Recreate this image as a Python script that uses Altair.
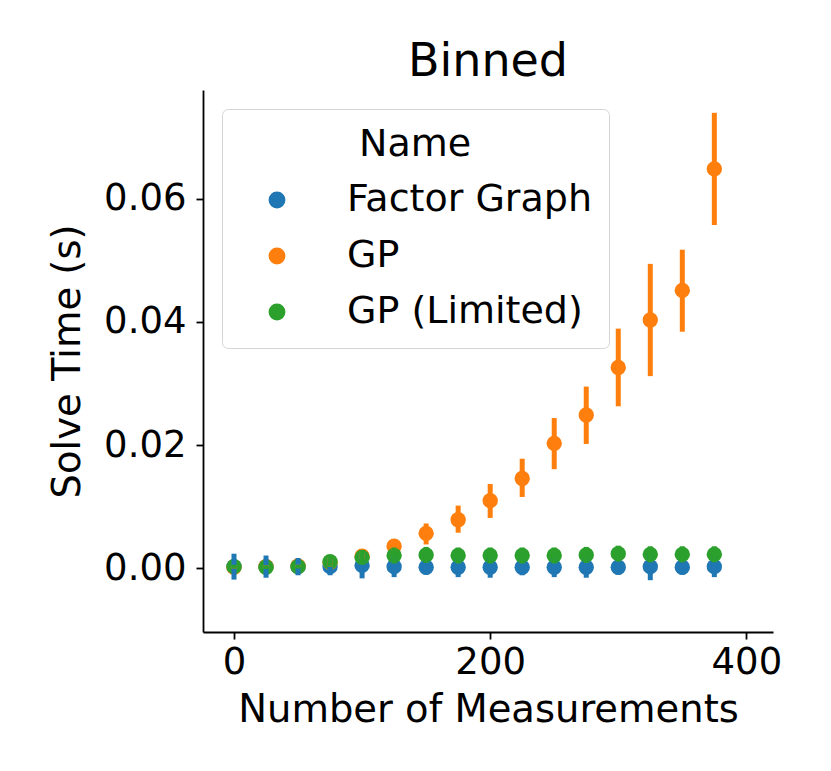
import altair as alt
import pandas as pd

# Data
measurements = [0, 25, 50, 75, 100, 125, 150, 175, 200, 225, 250, 275, 300, 325, 350, 375]
names = ["Factor Graph", "GP", "GP (Limited)"]
colors = ["#1f77b4", "#ff7f0e", "#2ca02c"]

fg_mean = [0.0003, 0.0003, 0.0003, 0.0003, 0.0005, 0.0003, 0.0002, 0.0002, 0.0002, 0.0002, 0.0002, 0.0002, 0.0002, 0.0003, 0.0002, 0.0003]
fg_lo = [-0.0018, -0.0015, -0.0011, -0.0011, -0.0016, -0.0014, -0.0010, -0.0014, -0.0015, -0.0011, -0.0014, -0.0015, -0.0010, -0.0019, -0.0010, -0.0014]
fg_hi = [0.0024, 0.0021, 0.0017, 0.0017, 0.0026, 0.0020, 0.0014, 0.0018, 0.0019, 0.0015, 0.0018, 0.0019, 0.0014, 0.0025, 0.0014, 0.0020]

gp_mean = [0.0002, 0.0003, 0.0004, 0.0010, 0.0020, 0.0036, 0.0057, 0.0079, 0.0110, 0.0146, 0.0203, 0.0249, 0.0326, 0.0403, 0.0451, 0.0648]
gp_lo = [0.0000, 0.0001, 0.0002, 0.0003, 0.0015, 0.0029, 0.0039, 0.0058, 0.0082, 0.0116, 0.0161, 0.0202, 0.0263, 0.0312, 0.0384, 0.0557]
gp_hi = [0.0004, 0.0005, 0.0006, 0.0018, 0.0025, 0.0043, 0.0073, 0.0102, 0.0137, 0.0178, 0.0244, 0.0295, 0.0389, 0.0494, 0.0517, 0.0739]

gpl_mean = [0.0003, 0.0002, 0.0003, 0.0011, 0.0018, 0.0021, 0.0022, 0.0021, 0.0021, 0.0021, 0.0021, 0.0022, 0.0024, 0.0023, 0.0023, 0.0023]
gpl_lo = [0.0000, -0.0001, 0.0000, 0.0003, 0.0006, 0.0008, 0.0009, 0.0008, 0.0008, 0.0008, 0.0008, 0.0009, 0.0011, 0.0010, 0.0010, 0.0010]
gpl_hi = [0.0006, 0.0005, 0.0006, 0.0019, 0.0030, 0.0034, 0.0035, 0.0034, 0.0034, 0.0034, 0.0034, 0.0035, 0.0037, 0.0036, 0.0036, 0.0036]

rows = []
for name, m, lo, hi in [
    (names[0], fg_mean, fg_lo, fg_hi),
    (names[1], gp_mean, gp_lo, gp_hi),
    (names[2], gpl_mean, gpl_lo, gpl_hi),
]:
    for x, a, b, c in zip(measurements, m, lo, hi):
        rows.append({"Number of Measurements": x, "Name": name, "mean": a, "lo": b, "hi": c})
df = pd.DataFrame(rows)

FONT = "DejaVu Sans"

xenc = alt.X(
    "Number of Measurements:Q",
    scale=alt.Scale(domain=[-24.2, 420.8], nice=False, zero=False),
    axis=alt.Axis(values=[0, 200, 400], title="Number of Measurements", format="d"),
)
yscale = alt.Scale(domain=[-0.0103, 0.0776], nice=False, zero=False)

color_scale = alt.Scale(domain=names, range=colors)

points = alt.Chart(df).mark_circle(size=236, opacity=1).encode(
    x=xenc,
    y=alt.Y(
        "mean:Q",
        scale=yscale,
        axis=alt.Axis(values=[0.0, 0.02, 0.04, 0.06], format=".2f", title="Solve Time (s)"),
    ),
    color=alt.Color(
        "Name:N",
        scale=color_scale,
        legend=alt.Legend(
            title="Name",
            orient="none",
            legendX=19,
            legendY=19,
            padding=17,
            symbolOffset=19,
            labelOffset=51,
            symbolSize=236,
            symbolType="circle",
            rowPadding=18,
            titlePadding=17,
            titleAnchor="middle",
            titleAlign="center",
            strokeColor="#d4d4d4",
            fillColor="white",
            cornerRadius=6,
            labelFontSize=38,
            titleFontSize=38,
            labelLimit=500,
            titleLimit=500,
            labelFont=FONT,
            titleFont=FONT,
            titleFontWeight="normal",
            labelColor="black",
            titleColor="black",
        ),
    ),
)

bars = alt.Chart(df).mark_rule(strokeWidth=5).encode(
    x=xenc,
    y=alt.Y("lo:Q", scale=yscale),
    y2="hi:Q",
    color=alt.Color("Name:N", scale=color_scale, legend=None),
)

chart = (
    alt.layer(points, bars)
    .properties(
        width=570,
        height=542,
        title=alt.TitleParams("Binned", fontSize=46, font=FONT, fontWeight="normal", color="black", offset=4),
        autosize=alt.AutoSizeParams(type="none"),
        padding={"left": 195, "top": 82, "right": 50, "bottom": 140},
    )
    .configure_view(stroke=None)
    .configure_axis(
        grid=False,
        domainColor="black",
        domainWidth=1.8,
        tickColor="black",
        tickWidth=1.8,
        tickSize=7,
        labelFont=FONT,
        titleFont=FONT,
        labelFontSize=37,
        titleFontSize=38.5,
        titleFontWeight="normal",
        labelColor="black",
        titleColor="black",
    )
    .configure_axisX(labelPadding=5, titlePadding=11)
    .configure_axisY(labelPadding=10, titlePadding=16)
)

chart.save("out.html", embed_options={"renderer": "svg", "actions": False})
